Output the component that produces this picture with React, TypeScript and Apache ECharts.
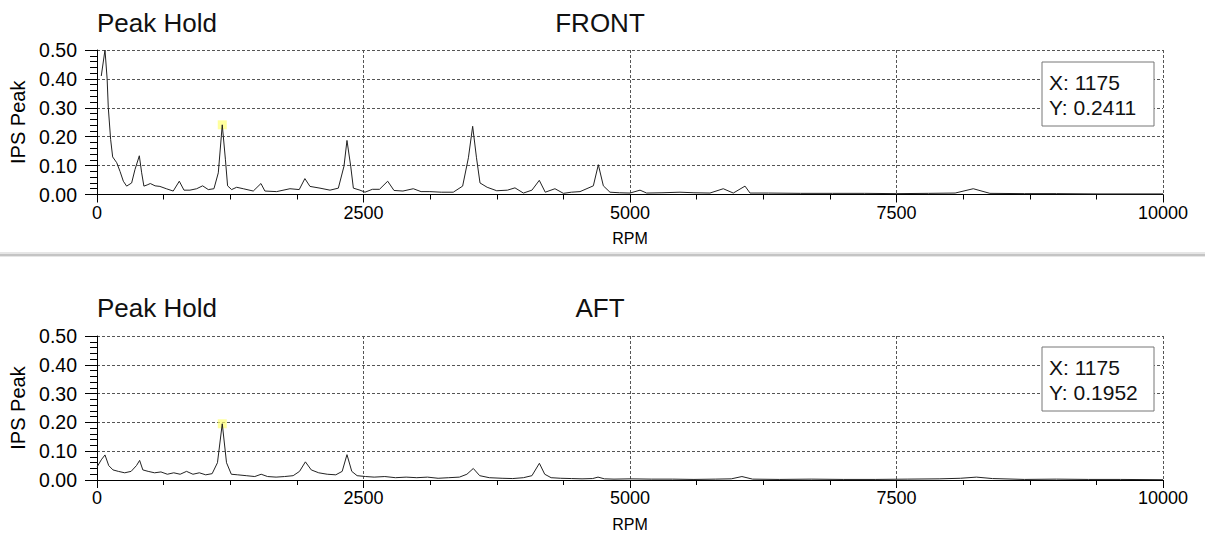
import React, { useEffect, useRef } from "react";
import * as echarts from "echarts";

const frontRpm = [40, 75, 95, 106, 128, 147, 185, 216, 247, 278, 325, 356, 397, 419, 440, 470, 500, 545, 590, 650, 715, 772, 816, 872, 935, 991, 1044, 1097, 1138, 1175, 1205, 1225, 1263, 1310, 1372, 1466, 1538, 1575, 1685, 1810, 1897, 1950, 1998, 2092, 2186, 2264, 2317, 2345, 2380, 2405, 2467, 2514, 2583, 2650, 2727, 2786, 2870, 2967, 3040, 3123, 3230, 3342, 3430, 3484, 3524, 3560, 3593, 3660, 3750, 3850, 3921, 4000, 4080, 4149, 4205, 4296, 4375, 4450, 4531, 4656, 4703, 4750, 4812, 4900, 5000, 5094, 5156, 5300, 5469, 5600, 5750, 5875, 5969, 6079, 6126, 6300, 6600, 6900, 7200, 7500, 7800, 8050, 8220, 8376, 8700, 9000, 9400, 10000];
const frontIps = [0.41, 0.5, 0.4, 0.3, 0.19, 0.13, 0.11, 0.08, 0.046, 0.029, 0.04, 0.086, 0.134, 0.075, 0.029, 0.033, 0.038, 0.03, 0.028, 0.02, 0.012, 0.046, 0.015, 0.015, 0.02, 0.03, 0.017, 0.02, 0.075, 0.2411, 0.12, 0.03, 0.017, 0.025, 0.02, 0.012, 0.038, 0.012, 0.01, 0.02, 0.017, 0.055, 0.028, 0.022, 0.015, 0.022, 0.098, 0.187, 0.098, 0.022, 0.015, 0.008, 0.018, 0.018, 0.046, 0.014, 0.012, 0.02, 0.01, 0.01, 0.008, 0.008, 0.029, 0.127, 0.236, 0.127, 0.04, 0.025, 0.013, 0.015, 0.023, 0.005, 0.015, 0.049, 0.008, 0.02, 0.004, 0.008, 0.01, 0.03, 0.103, 0.03, 0.008, 0.006, 0.005, 0.015, 0.005, 0.006, 0.008, 0.006, 0.005, 0.02, 0.005, 0.029, 0.005, 0.005, 0.004, 0.004, 0.004, 0.003, 0.004, 0.005, 0.02, 0.004, 0.003, 0.003, 0.002, 0.002];

const aftRpm = [0, 40, 75, 110, 150, 200, 260, 320, 370, 400, 430, 480, 540, 600, 660, 720, 780, 840, 900, 960, 1020, 1080, 1130, 1175, 1215, 1260, 1320, 1400, 1480, 1540, 1600, 1680, 1760, 1840, 1900, 1955, 2010, 2080, 2160, 2240, 2300, 2345, 2390, 2440, 2520, 2600, 2700, 2800, 2900, 3000, 3100, 3200, 3300, 3400, 3470, 3530, 3590, 3680, 3800, 3900, 4000, 4080, 4150, 4200, 4260, 4350, 4450, 4550, 4650, 4700, 4760, 4850, 5000, 5200, 5400, 5600, 5800, 5950, 6050, 6150, 6400, 6700, 7000, 7300, 7600, 7900, 8100, 8250, 8400, 8700, 9000, 9300, 9600, 10000];
const aftIps = [0.045, 0.07, 0.087, 0.05, 0.035, 0.03, 0.025, 0.03, 0.05, 0.068, 0.035, 0.03, 0.025, 0.028, 0.02, 0.025, 0.02, 0.03, 0.02, 0.025, 0.018, 0.022, 0.06, 0.1952, 0.06, 0.02, 0.018, 0.015, 0.012, 0.02, 0.012, 0.01, 0.012, 0.015, 0.03, 0.063, 0.035, 0.025, 0.02, 0.018, 0.03, 0.088, 0.03, 0.015, 0.012, 0.01, 0.012, 0.008, 0.01, 0.008, 0.01, 0.006, 0.008, 0.01, 0.02, 0.04, 0.015, 0.008, 0.006, 0.005, 0.008, 0.015, 0.058, 0.02, 0.008, 0.006, 0.005, 0.004, 0.005, 0.01, 0.004, 0.003, 0.004, 0.003, 0.003, 0.002, 0.003, 0.004, 0.012, 0.003, 0.002, 0.003, 0.002, 0.002, 0.003, 0.004, 0.006, 0.01, 0.005, 0.002, 0.003, 0.002, 0.002, 0.001];

const cursorRpm = 1175;
const frontCursor = 0.2411;
const aftCursor = 0.1952;

const panelTitles = ["FRONT", "AFT"];
const modeLabel = "Peak Hold";
const yName = "IPS Peak";
const xName = "RPM";

const FONT = "'Liberation Sans', Arial, sans-serif";

function xAxisCfg(gridIndex: number) {
  return {
    type: "value",
    gridIndex,
    min: 0,
    max: 10000,
    interval: 2500,
    name: xName,
    nameLocation: "middle",
    nameGap: 36,
    nameTextStyle: { color: "#000", fontSize: 16, fontFamily: FONT },
    axisLine: { show: true, onZero: false, lineStyle: { color: "#000", width: 1 } },
    axisTick: { show: true, length: 8, lineStyle: { color: "#000" } },
    minorTick: { show: true, splitNumber: 4, length: 5, lineStyle: { color: "#000" } },
    axisLabel: {
      color: "#000",
      fontSize: 18,
      fontFamily: FONT,
      margin: 9,
      formatter: (v: number) => String(v),
    },
    splitLine: { show: true, lineStyle: { color: "#555", type: [3, 2], width: 1 } },
  };
}

function yAxisCfg(gridIndex: number) {
  return {
    type: "value",
    gridIndex,
    min: 0,
    max: 0.5,
    interval: 0.1,
    name: yName,
    nameLocation: "middle",
    nameGap: 68,
    nameTextStyle: { color: "#000", fontSize: 20, fontFamily: FONT },
    axisLine: { show: true, lineStyle: { color: "#000", width: 1 } },
    axisTick: { show: true, length: 12, lineStyle: { color: "#000" } },
    minorTick: { show: true, splitNumber: 5, length: 7, lineStyle: { color: "#000" } },
    axisLabel: {
      color: "#000",
      fontSize: 19.5,
      fontFamily: FONT,
      margin: 20,
      formatter: (v: number) => v.toFixed(2),
    },
    splitLine: { show: true, lineStyle: { color: "#555", type: [3, 2], width: 1 } },
  };
}

function readout(x: number, y: number, value: number) {
  return {
    type: "group",
    x,
    y,
    z: 100,
    children: [
      {
        type: "rect",
        z: 100,
        shape: { x: 0, y: 0, width: 112, height: 64 },
        style: { fill: "#fff", stroke: "#777", lineWidth: 1 },
      },
      {
        type: "text",
        z: 101,
        x: 7,
        y: 20,
        style: { text: `X: ${cursorRpm}`, fill: "#111", fontSize: 21, fontFamily: FONT, textVerticalAlign: "middle" },
      },
      {
        type: "text",
        z: 101,
        x: 7,
        y: 45,
        style: { text: `Y: ${value.toFixed(4)}`, fill: "#111", fontSize: 21, fontFamily: FONT, textVerticalAlign: "middle" },
      },
    ],
  };
}

function titleTexts(y: number, name: string) {
  return [
    {
      type: "text",
      x: 97,
      y,
      style: { text: modeLabel, fill: "#111", fontSize: 26, fontFamily: FONT, textVerticalAlign: "middle" },
    },
    {
      type: "text",
      x: 600,
      y,
      style: { text: name, fill: "#111", fontSize: 26, fontFamily: FONT, textAlign: "center", textVerticalAlign: "middle" },
    },
  ];
}

export default function App() {
  const ref = useRef<HTMLDivElement>(null);
  useEffect(() => {
    if (!ref.current) return;
    const chart = echarts.init(ref.current, null, { renderer: "svg" });
    const frontData = frontRpm.map((r, i) => [r, frontIps[i]]);
    const aftData = aftRpm.map((r, i) => [r, aftIps[i]]);
    chart.setOption({
      animation: false,
      backgroundColor: "#fff",
      grid: [
        { left: 97, right: 42, top: 50, height: 144.5 },
        { left: 97, right: 42, top: 336, height: 144 },
      ],
      xAxis: [xAxisCfg(0), xAxisCfg(1)],
      yAxis: [yAxisCfg(0), yAxisCfg(1)],
      series: [
        {
          type: "line",
          xAxisIndex: 0,
          yAxisIndex: 0,
          data: frontData,
          showSymbol: false,
          lineStyle: { color: "#222", width: 1 },
        },
        {
          type: "line",
          xAxisIndex: 1,
          yAxisIndex: 1,
          data: aftData,
          showSymbol: false,
          lineStyle: { color: "#222", width: 1 },
        },
        {
          type: "scatter",
          xAxisIndex: 0,
          yAxisIndex: 0,
          data: [[cursorRpm, frontCursor]],
          symbol: "rect",
          symbolSize: 9,
          itemStyle: { color: "rgba(255,255,110,0.85)" },
        },
        {
          type: "scatter",
          xAxisIndex: 1,
          yAxisIndex: 1,
          data: [[cursorRpm, aftCursor]],
          symbol: "rect",
          symbolSize: 9,
          itemStyle: { color: "rgba(255,255,110,0.85)" },
        },
      ],
      graphic: [
        {
          type: "rect",
          shape: { x: 0, y: 252, width: 1205, height: 5 },
          style: { fill: "#e6e6e6" },
        },
        {
          type: "line",
          shape: { x1: 0, y1: 255, x2: 1205, y2: 255 },
          style: { stroke: "#c4c4c4", lineWidth: 2 },
        },
        ...titleTexts(23, panelTitles[0]),
        ...titleTexts(308, panelTitles[1]),
        readout(1042, 62, frontCursor),
        readout(1042, 347, aftCursor),
      ],
    });
    return () => chart.dispose();
  }, []);
  return <div ref={ref} style={{ position: "fixed", left: 0, top: 0, width: 1205, height: 543 }} />;
}
